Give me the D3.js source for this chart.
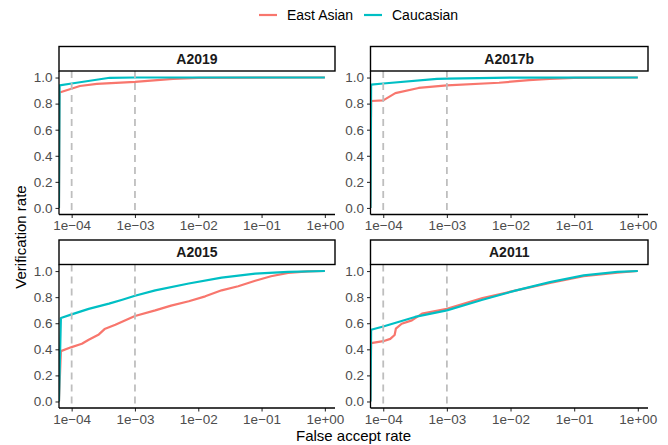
<!DOCTYPE html>
<html>
<head>
<meta charset="utf-8">
<script src="https://cdn.jsdelivr.net/npm/d3@7"></script>
<style>
  body { margin: 0; background: #fff; }
  text { font-family: "Liberation Sans", Arial, sans-serif; }
</style>
</head>
<body>
<svg id="chart" width="668" height="445"></svg>
<script>
// ---- Data ----
const facets = ["A2019", "A2017b", "A2015", "A2011"];
const seriesNames = ["East Asian", "Caucasian"];
const seriesColors = ["#F8766D", "#00BFC4"];
const xTickValues = [1e-4, 1e-3, 1e-2, 1e-1, 1];
const xTickLabels = ["1e\u221204", "1e\u221203", "1e\u221202", "1e\u221201", "1e+00"];
const yTickValues = [0, 0.2, 0.4, 0.6, 0.8, 1.0];
const yTickLabels = ["0.0", "0.2", "0.4", "0.6", "0.8", "1.0"];
const refLines = [1e-4, 1e-3];

// A2019
const a2019FarEA = [6.3e-5, 6.45e-5, 1.35e-4, 2.5e-4, 1e-3, 4e-3, 1e-2, 1];
const a2019TarEA = [0, 0.885, 0.935, 0.952, 0.966, 0.99, 0.998, 1.0];
const a2019FarCA = [6.3e-5, 6.45e-5, 1e-4, 4e-4, 1e-3, 1];
const a2019TarCA = [0, 0.94, 0.954, 0.998, 1.0, 1.0];
// A2017b
const a2017bFarEA = [6.3e-5, 6.45e-5, 1e-4, 1.55e-4, 3.6e-4, 1e-3, 6.6e-3, 1.95e-2, 4.1e-2, 0.1, 1];
const a2017bTarEA = [0, 0.82, 0.825, 0.88, 0.92, 0.94, 0.96, 0.98, 0.99, 0.998, 1.0];
const a2017bFarCA = [6.3e-5, 6.45e-5, 1e-4, 7e-4, 1e-3, 1e-2, 1];
const a2017bTarCA = [0, 0.946, 0.954, 0.99, 0.992, 0.999, 1.0];
// A2015
const a2015FarEA = [6.3e-5, 6.76e-5, 1e-4, 1.45e-4, 1.86e-4, 2.69e-4, 3.31e-4, 4.9e-4, 1e-3, 2.09e-3, 3.72e-3,
                    7.08e-3, 1.29e-2, 2.34e-2, 4.27e-2, 7.94e-2, 0.141, 0.263, 0.537, 1];
const a2015TarEA = [0, 0.386, 0.417, 0.442, 0.473, 0.514, 0.555, 0.588, 0.655, 0.698, 0.735,
                    0.768, 0.806, 0.852, 0.883, 0.925, 0.96, 0.986, 0.998, 1.0];
const a2015FarCA = [6.3e-5, 6.76e-5, 1e-4, 1.86e-4, 3.89e-4, 6.31e-4, 1e-3, 2.09e-3, 7.08e-3, 2.34e-2, 7.94e-2, 0.263, 1];
const a2015TarCA = [0, 0.64, 0.668, 0.71, 0.75, 0.78, 0.81, 0.852, 0.904, 0.95, 0.98, 0.994, 1.0];
// A2011
const a2011FarEA = [6.3e-5, 6.45e-5, 1e-4, 1.29e-4, 1.51e-4, 1.58e-4, 1.95e-4, 2.82e-4, 4.07e-4, 1e-3,
                    3.63e-3, 1.23e-2, 4.17e-2, 0.141, 0.479, 1];
const a2011TarEA = [0, 0.447, 0.462, 0.48, 0.51, 0.558, 0.596, 0.622, 0.673, 0.71,
                    0.793, 0.852, 0.908, 0.96, 0.988, 1.0];
const a2011FarCA = [6.3e-5, 6.45e-5, 1e-4, 3.16e-4, 1e-3, 3.63e-3, 1.23e-2, 4.17e-2, 0.141, 0.479, 1];
const a2011TarCA = [0, 0.55, 0.575, 0.648, 0.698, 0.78, 0.852, 0.915, 0.967, 0.993, 1.0];

const facetData = [
  [[a2019FarEA, a2019TarEA], [a2019FarCA, a2019TarCA]],
  [[a2017bFarEA, a2017bTarEA], [a2017bFarCA, a2017bTarCA]],
  [[a2015FarEA, a2015TarEA], [a2015FarCA, a2015TarCA]],
  [[a2011FarEA, a2011TarEA], [a2011FarCA, a2011TarCA]]
];

// ---- Layout ----
const svg = d3.select("#chart");
const colX = [59, 370.5];
const panelW = [276, 277.5];
const rowY = [71, 264.5];
const panelH = 143.5;
const stripH = 24.5;

const defs = svg.append("defs");

facets.forEach((name, i) => {
  const col = i % 2, row = Math.floor(i / 2);
  const x0 = colX[col], y0 = rowY[row], w = panelW[col], h = panelH;
  const x = d3.scaleLog().domain([Math.pow(10, -4.2), Math.pow(10, 0.16)]).range([0, w]);
  const y = d3.scaleLinear().domain([-0.05, 1.05]).range([h, 0]);
  const g = svg.append("g").attr("transform", `translate(${x0},${y0})`);

  defs.append("clipPath").attr("id", "clip" + i)
    .append("rect").attr("x", 0).attr("y", 0).attr("width", w).attr("height", h);

  const plot = g.append("g").attr("clip-path", `url(#clip${i})`);
  const line = d3.line().x(d => x(d[0])).y(d => y(d[1]));
  facetData[i].forEach((s, k) => {
    const pts = s[0].map((f, j) => [f, s[1][j]]);
    plot.append("path").datum(pts)
      .attr("d", line)
      .attr("fill", "none")
      .attr("stroke", seriesColors[k])
      .attr("stroke-width", 2.2)
      .attr("stroke-linejoin", "round");
  });
  refLines.forEach(v => {
    plot.append("line")
      .attr("x1", x(v)).attr("x2", x(v)).attr("y1", 0).attr("y2", h)
      .attr("stroke", "#bebebe").attr("stroke-width", 1.8)
      .attr("stroke-dasharray", "7,5");
  });

  // axes
  const xAxis = d3.axisBottom(x).tickValues(xTickValues)
    .tickFormat((d, j) => xTickLabels[j]).tickSize(3.5).tickPadding(2.5);
  const yAxis = d3.axisLeft(y).tickValues(yTickValues)
    .tickFormat((d, j) => yTickLabels[j]).tickSize(3.5).tickPadding(3);
  const gx = g.append("g").attr("transform", `translate(0,${h})`).call(xAxis);
  const gy = g.append("g").call(yAxis);
  [gx, gy].forEach(a => {
    a.select(".domain").remove();
    a.selectAll(".tick line").attr("stroke", "#333").attr("stroke-width", 1.1);
    a.selectAll(".tick text").attr("fill", "#4d4d4d").style("font-size", "13.5px")
      .style("font-family", '"Liberation Sans", Arial, sans-serif');
  });
  g.append("line").attr("x1", 0).attr("x2", w).attr("y1", h).attr("y2", h)
    .attr("stroke", "#000").attr("stroke-width", 1.3);
  g.append("line").attr("x1", 0).attr("x2", 0).attr("y1", 0).attr("y2", h)
    .attr("stroke", "#000").attr("stroke-width", 1.3);

  // strip
  const sg = svg.append("g").attr("transform", `translate(${x0},${y0 - stripH})`);
  sg.append("rect").attr("x", 0).attr("y", 0).attr("width", w).attr("height", stripH)
    .attr("fill", "#fff").attr("stroke", "#000").attr("stroke-width", 1.4);
  sg.append("text").attr("x", w / 2).attr("y", stripH / 2 + 5)
    .attr("text-anchor", "middle").attr("fill", "#1a1a1a")
    .style("font-size", "14px").style("font-weight", "bold").text(name);
});

// axis titles
svg.append("text").attr("x", 353.5).attr("y", 440.5)
  .attr("text-anchor", "middle").attr("fill", "#000").style("font-size", "15px")
  .text("False accept rate");
svg.append("text").attr("transform", "translate(26,237) rotate(-90)")
  .attr("text-anchor", "middle").attr("fill", "#000").style("font-size", "15px")
  .text("Verification rate");

// legend
const legendX = [259, 364];
seriesNames.forEach((n, k) => {
  const lg = svg.append("g").attr("transform", `translate(${legendX[k]},15)`);
  lg.append("line").attr("x1", 0).attr("x2", 18).attr("y1", 0).attr("y2", 0)
    .attr("stroke", seriesColors[k]).attr("stroke-width", 2.2);
  lg.append("text").attr("x", 28).attr("y", 5).attr("fill", "#000")
    .style("font-size", "14px").text(n);
});
</script>
</body>
</html>
